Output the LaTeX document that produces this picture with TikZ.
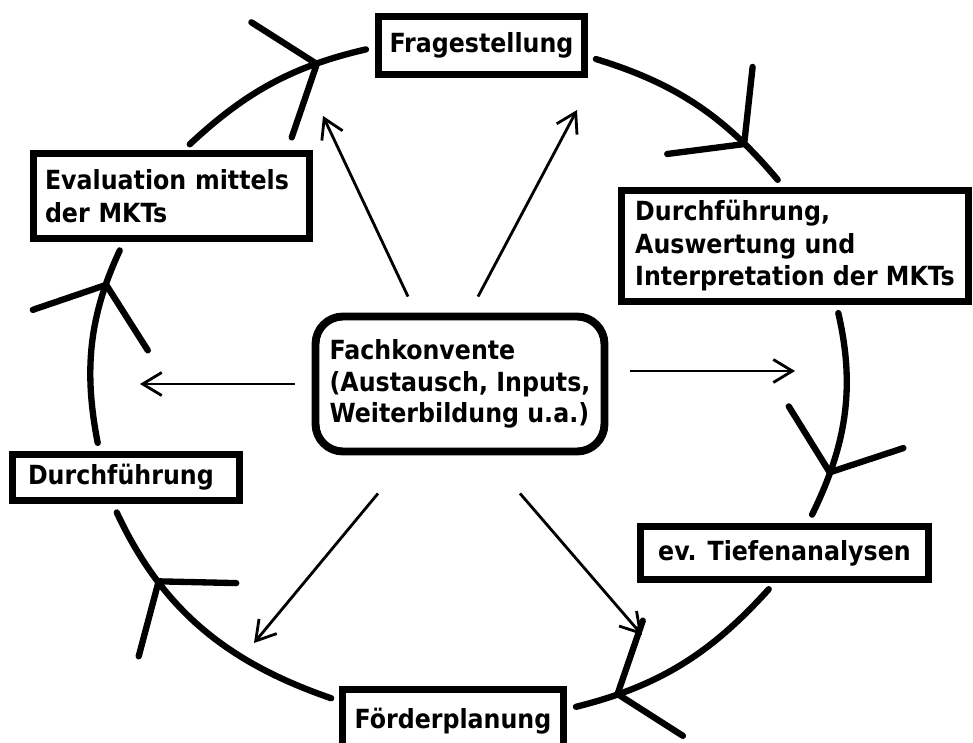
\documentclass[tikz,border=0pt]{standalone}
\usepackage{fontspec}
\setmainfont{DejaVu Sans Condensed}
\usetikzlibrary{arrows.meta,decorations.markings}
\tikzset{
block/.style = {draw, line width=4.3pt, fill=white, rectangle, align=center, inner sep=0pt,
  font=\bfseries\fontsize{15}{18.5}\selectfont},
hub/.style = {draw, line width=4.5pt, fill=white, rounded corners=0.55cm, align=left, inner sep=0pt,
  font=\bfseries\fontsize{15}{18}\selectfont},
ring/.style = {line width=3.6pt, line cap=round, shorten <=0.16cm, shorten >=0.18cm,
  postaction={decorate}, decoration={markings, mark=at position #1 with
  {\arrow{Straight Barb[length=0.96cm,width=2.44cm,round]}}}},
ring/.default = 0.77,
spoke/.style = {line width=1.6pt, -{Straight Barb[length=0.38cm,width=0.46cm]}},
}
\begin{document}
\begin{tikzpicture}[x=0.02cm, y=-0.02cm]
      \useasboundingbox (0,0) rectangle (973,743);
      \node [block, minimum width=4.12cm, minimum height=1.16cm] (frage) at (481.5,45.5) {Fragestellung};
      \node [block, align=left, minimum width=6.94cm, minimum height=2.22cm] (durchaus) at (795,246)
         {Durchführung,\\Auswertung und\\Interpretation der MKTs};
      \node [block, minimum width=5.76cm, minimum height=1.06cm] (tiefe) at (784.5,553) {ev. Tiefenanalysen};
      \node [block, minimum width=4.42cm, minimum height=1.26cm] (foerder) at (453,721) {Förderplanung};
      \node [block, align=left, text width=3.92cm, inner xsep=0.31cm, minimum height=0.92cm] (durch) at (126,477.5) {Durchführung};
      \node [block, align=left, text width=5.06cm, inner xsep=0.23cm, minimum height=1.70cm] (eval) at (171.5,196)
         {Evaluation mittels\\der MKTs};
      \node [hub, minimum width=5.78cm, minimum height=2.70cm] (konv) at (460,384)
         {Fachkonvente\\(Austausch, Inputs,\\Weiterbildung u.a.)};
      % the cycle
      \draw [ring] (frage.-6) to [out=-17, in=130] (durchaus.101);
      \draw [ring] (durchaus.-55) to [out=-77, in=64] (tiefe.52);
      \draw [ring=0.8] (tiefe.-109) to [out=-132, in=14] (foerder.6);
      \draw [ring=0.72] (foerder.170) to [out=161, in=-65] (durch.-116);
      \draw [ring=0.8] (durch.135) to [out=101, in=-115] (eval.-136);
      \draw [ring=0.74] (eval.75) to [out=43, in=-167] (frage.181);
      % spokes from the centre
      \coordinate (tipnw) at (323,116);
      \coordinate (tipne) at (577,110);
      \coordinate (tipw) at (140,384);
      \coordinate (tipe) at (795,371);
      \coordinate (tipsw) at (254,643);
      \coordinate (tipse) at (642,635);
      \draw [spoke] ([shift={(-52,-16)}]konv.north) -- (tipnw);
      \draw [spoke] ([shift={(18,-16)}]konv.north) -- (tipne);
      \draw [spoke] ([shift={(-17,0)}]konv.west) -- (tipw);
      \draw [spoke] ([shift={(22,-13)}]konv.east) -- (tipe);
      \draw [spoke] ([shift={(-82,38)}]konv.south) -- (tipsw);
      \draw [spoke] ([shift={(60,38)}]konv.south) -- (tipse);
\end{tikzpicture}
\end{document}
